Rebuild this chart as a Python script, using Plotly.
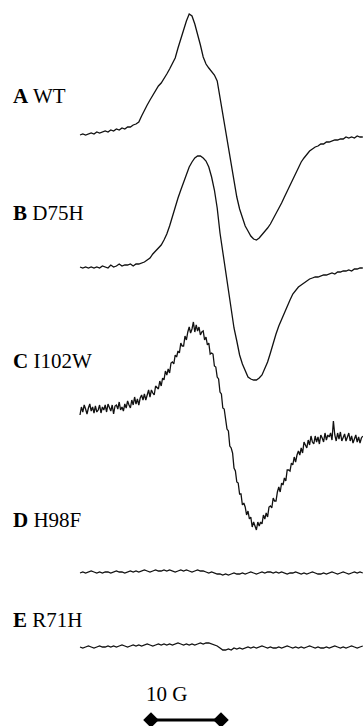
import numpy as np
import plotly.graph_objects as go

# EPR spectra, field axis in Gauss (relative), amplitude in arbitrary units
field = np.round(0.4 * np.arange(102), 2)       # sweeps A, B, D, E (0.4 G steps)
field_C = np.round(0.2 * np.arange(203), 2)     # sweep C (0.2 G steps)

labels_bold = ["A", "B", "C", "D", "E"]
labels_name = ["WT", "D75H", "I102W", "H98F", "R71H"]
offsets = [591, 459, 316, 153, 79]

sig_A = [0, 1, 0, 1, 2, 1, 3, 2, 3, 4,
         3, 5, 4, 6, 5, 7, 6, 8, 8, 10,
         11, 13, 19, 25, 30, 35, 40, 45, 49, 52,
         56, 61, 66, 71, 77, 87, 96, 106, 114, 121,
         119, 111, 101, 90, 78, 71, 67, 64, 60, 54,
         37, 20, 3, -13, -30, -47, -62, -74, -83, -91,
         -96, -101, -104, -105, -103, -100, -97, -93, -89, -84,
         -79, -74, -68, -62, -56, -51, -45, -39, -33, -27,
         -23, -19, -16, -14, -12, -11, -9, -9, -7, -7,
         -6, -5, -5, -4, -4, -2, -3, -2, -3, -1,
         -2, -2]

sig_B = [0, -1, 0, -1, 0, -1, 0, -1, 1, 0,
         -1, 2, 0, 1, 3, 1, 2, 2, 3, 1,
         3, 3, 4, 5, 7, 9, 13, 16, 19, 22,
         27, 33, 41, 51, 61, 69, 77, 85, 92, 100,
         105, 109, 111, 111, 109, 106, 100, 90, 77, 59,
         34, 14, -6, -25, -45, -61, -74, -88, -97, -104,
         -110, -112, -113, -113, -111, -108, -102, -95, -86, -76,
         -67, -59, -52, -46, -40, -33, -27, -23, -20, -18,
         -16, -14, -12, -11, -10, -10, -9, -8, -8, -7,
         -6, -7, -5, -5, -4, -4, -3, -4, -2, -2,
         -1, -1]

sig_C = [-5, 3, -2, 5, 1, -4, 2, 6, -1, 3,
         -3, 4, -2, 0, 5, -3, 3, 0, 5, -2,
         6, 2, -1, 5, -4, 4, 5, 1, 8, 0,
         3, -1, 6, 2, 9, 5, 2, 10, 5, 13,
         6, 11, 5, 12, 15, 10, 16, 10, 15, 20,
         13, 20, 17, 15, 24, 22, 21, 29, 24, 32,
         30, 39, 35, 41, 37, 47, 48, 46, 55, 53,
         59, 57, 67, 64, 64, 74, 70, 78, 83, 77,
         81, 88, 78, 85, 79, 83, 75, 78, 79, 70,
         73, 65, 67, 56, 57, 56, 44, 43, 33, 31,
         18, 16, 2, 1, -9, -19, -21, -36, -38, -43,
         -58, -61, -72, -73, -84, -84, -95, -93, -97, -105,
         -101, -109, -107, -117, -112, -116, -120, -112, -116, -112,
         -114, -105, -109, -103, -107, -97, -96, -98, -88, -91,
         -91, -82, -77, -82, -73, -75, -68, -71, -60, -60,
         -61, -53, -55, -47, -52, -45, -41, -45, -38, -43,
         -32, -35, -38, -30, -35, -26, -32, -34, -26, -32,
         -27, -34, -25, -28, -32, -23, -30, -25, -27, -23,
         -30, -11, -25, -31, -23, -29, -22, -31, -27, -24,
         -31, -26, -23, -31, -26, -33, -28, -25, -32, -27,
         -33, -28, -26]

sig_D = [0, 1, 0, 1, 2, 1, 0, 1, 0, 1,
         1, 0, 1, 2, 1, 1, 0, 1, 2, 1,
         2, 1, 2, 3, 2, 1, 2, 3, 2, 2,
         3, 2, 3, 2, 1, 2, 3, 2, 3, 2,
         1, 2, 3, 2, 2, 1, 0, 1, 0, -1,
         -1, -2, -1, -2, -1, 0, -1, -1, 0, -1,
         0, 1, 0, -1, 0, 1, 0, 1, 1, 0,
         1, 0, 1, 0, -1, 0, 0, 1, 0, -1,
         0, -1, 0, 1, 0, -1, -1, 0, -1, 0,
         1, 0, -1, 0, 1, 0, -1, 0, 1, 0,
         1, 0]

sig_E = [0, -1, 0, 1, 0, -1, 0, 1, 0, 0,
         1, 0, 1, 0, 1, 2, 1, 0, 1, 2,
         1, 2, 1, 2, 3, 2, 1, 2, 3, 2,
         3, 2, 3, 2, 3, 4, 3, 2, 3, 2,
         3, 2, 3, 4, 3, 4, 4, 3, 2, 1,
         -1, -3, -3, -2, -3, -1, -2, -1, -2, -1,
         0, -1, 0, -1, 0, 1, 0, -1, 0, -1,
         -1, 0, -1, 0, 1, 0, -1, 0, -1, 0,
         -1, 0, 1, 0, -1, 0, -1, -1, 0, -1,
         0, 1, 0, -1, 0, -1, 0, 1, 0, -1,
         0, 1]

signals = [sig_A, sig_B, sig_C, sig_D, sig_E]
fields = [field, field, field_C, field, field]

# label vertical positions (paper fraction) and scale bar
label_y = [0.868, 0.707, 0.503, 0.284, 0.146]
scale_bar_G = [10.14, 20.14]
scale_bar_level = 6
scale_text = "10 G"

fig = go.Figure()
for fx, sig, off in zip(fields, signals, offsets):
    fig.add_trace(go.Scatter(
        x=fx, y=np.array(sig) + off, mode="lines",
        line=dict(color="#111111", width=1.3), hoverinfo="skip"))

fig.add_trace(go.Scatter(
    x=scale_bar_G, y=[scale_bar_level, scale_bar_level], mode="lines+markers",
    line=dict(color="black", width=3),
    marker=dict(symbol="diamond", size=12, color="black"), hoverinfo="skip",
    cliponaxis=False))

font = dict(family="Liberation Serif", size=21, color="black")
for b, n, yy in zip(labels_bold, labels_name, label_y):
    fig.add_annotation(x=0.031, y=yy, xref="paper", yref="paper",
                       text=f"<b>{b}</b> {n}", showarrow=False,
                       xanchor="left", yanchor="middle", font=font)

fig.add_annotation(x=12.29, y=0.044, xref="x", yref="paper", text=scale_text,
                   showarrow=False, xanchor="center", yanchor="middle", font=font)

fig.update_layout(
    width=363, height=726, margin=dict(l=0, r=0, t=0, b=0),
    paper_bgcolor="white", plot_bgcolor="white", showlegend=False,
    xaxis=dict(range=[-80 / 7, 283 / 7], visible=False, fixedrange=True),
    yaxis=dict(range=[0, 726], visible=False, fixedrange=True),
)
fig.write_html(
    "out.html",
    config={"displayModeBar": False},
    post_script="document.documentElement.style.margin='0';document.body.style.margin='0';document.body.style.overflow='hidden';",
)
